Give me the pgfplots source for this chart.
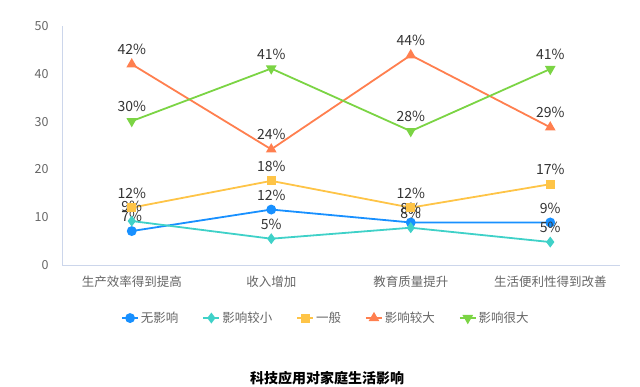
\documentclass[border=0pt]{standalone}
\usepackage{pgfplots}
\pgfplotsset{compat=1.18}
\usepackage{fontspec}
\setmainfont{Noto Sans CJK SC}
\definecolor{cBlue}{HTML}{1890FF}
\definecolor{cTeal}{HTML}{3FD1C8}
\definecolor{cYellow}{HTML}{FEC447}
\definecolor{cOrange}{HTML}{FF7F4F}
\definecolor{cGreen}{HTML}{7BD444}
\definecolor{axisline}{HTML}{CCD6EB}
\definecolor{ticktext}{HTML}{666666}
\definecolor{labeltext}{HTML}{333333}
\begin{document}
\begin{tikzpicture}[x=1pt,y=1pt]
\path[use as bounding box] (0,0) rectangle (640,386);
\begin{axis}[
  at={(62pt,121pt)}, anchor=south west,
  width=558pt, height=239pt, scale only axis,
  xmin=-0.5, xmax=3.5, ymin=0, ymax=50,
  xtick={0,1,2,3},
  xticklabels={生产效率得到提高,收入增加,教育质量提升,生活便利性得到改善},
  ytick={0,10,20,30,40,50},
  axis x line*=bottom, axis y line*=left,
  axis line style={axisline, line width=0.8pt},
  x axis line style={-}, y axis line style={-},
  tick style={draw=none},
  tick label style={font=\fontsize{12.5}{14}\selectfont, text=ticktext},
  /pgf/number format/assume math mode=true,
  xticklabel style={yshift=-7pt},
  yticklabel style={xshift=-10pt},
  nodes near coords, point meta=explicit symbolic,
  every node near coord/.append style={font=\fontsize{14}{16}\selectfont, text=labeltext, anchor=south, yshift=5pt},
  legend columns=5,
  legend style={at={(0.473,-0.222)}, anchor=center, draw=none, fill=none,
    font=\fontsize{12.5}{14}\selectfont, text=ticktext,
    /tikz/every even column/.append style={column sep=22pt}},
  legend image code/.code={
    \draw[#1, mark repeat=2, mark phase=2] plot coordinates {(0pt,0pt) (8pt,0pt) (16pt,0pt)};
  },
]
\addplot[cBlue, line width=1.8pt, mark=*, mark size=4pt, mark options={fill=cBlue}] coordinates {
  (0,7.1) [7\%] (1,11.6) [12\%] (2,8.9) [8\%] (3,8.9) [9\%]};
\addlegendentry{无影响}
\addplot[cTeal, line width=1.8pt, mark=diamond*, mark size=4pt, mark options={fill=cTeal}] coordinates {
  (0,9.2) [9\%] (1,5.5) [5\%] (2,7.8) [8\%] (3,4.8) [5\%]};
\addlegendentry{影响较小}
\addplot[cYellow, line width=1.8pt, mark=square*, mark size=3.6pt, mark options={fill=cYellow}] coordinates {
  (0,12.0) [12\%] (1,17.6) [18\%] (2,12.0) [12\%] (3,16.9) [17\%]};
\addlegendentry{一般}
\addplot[cOrange, line width=1.8pt, mark=triangle*, mark size=4.4pt, mark options={fill=cOrange}] coordinates {
  (0,42.0) [42\%] (1,24.2) [24\%] (2,43.9) [44\%] (3,28.8) [29\%]};
\addlegendentry{影响较大}
\addplot[cGreen, line width=1.8pt, mark=triangle*, mark size=4.4pt, mark options={fill=cGreen, rotate=180}] coordinates {
  (0,30.1) [30\%] (1,41.1) [41\%] (2,28.0) [28\%] (3,41.0) [41\%]};
\addlegendentry{影响很大}
\end{axis}
\node[font=\fontsize{14}{16}\selectfont\bfseries, text=black] at (327,8) {科技应用对家庭生活影响};
\end{tikzpicture}
\end{document}
